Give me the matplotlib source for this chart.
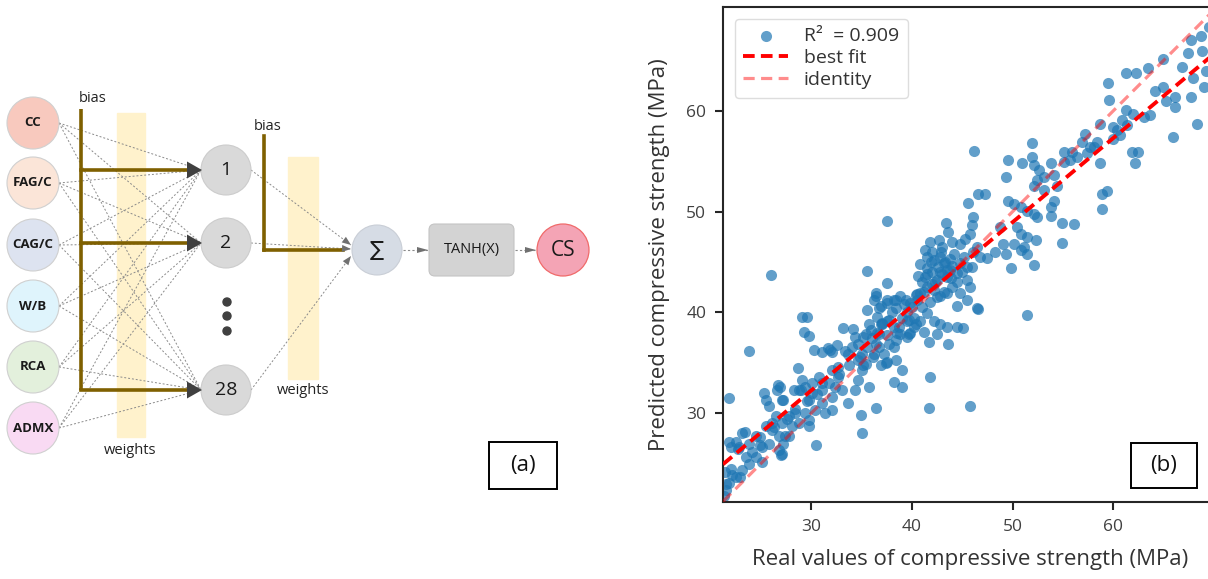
import numpy as np
import matplotlib.pyplot as plt
from matplotlib.patches import Circle, Rectangle, FancyBboxPatch, Polygon

plt.rcParams['font.family'] = ['Open Sans', 'DejaVu Sans']

# ---------------- data (MPa) ----------------
# lower part of the cloud
real_low = [22.5, 23.1, 22.0, 22.8, 23.8, 24.5, 25.1, 25.5, 26.1, 26.5,
            26.6, 26.9, 25.3, 25.5, 25.8, 27.1, 25.1, 24.5, 23.8, 23.1,
            22.5, 21.8, 21.5, 22.1, 23.5, 24.1, 25.8, 26.8, 27.1, 27.8,
            28.1, 28.8, 28.8, 29.1, 29.4, 29.8, 30.1, 30.8, 31.1, 31.1,
            31.4, 32.1, 32.1, 32.4, 32.7, 33.1, 33.7, 34.4, 34.7, 35.1,
            35.4, 35.7, 36.1, 36.4, 36.7, 35.4, 35.7, 34.7, 34.4, 37.0,
            37.7, 38.4, 38.7, 39.7, 40.4, 39.7, 37.7, 36.7, 35.1, 34.7,
            34.1, 27.8, 28.4, 29.8, 27.1, 27.4, 26.8, 29.8, 29.4, 30.4,
            31.1, 32.1, 32.7, 30.1, 36.4, 36.7, 37.5, 38.4, 38.4, 39.4,
            40.4]
pred_low = [27.2, 28.0, 26.7, 26.7, 27.0, 27.7, 26.7, 28.7, 28.3, 29.7,
            32.3, 32.6, 32.0, 31.3, 30.7, 31.3, 25.2, 25.7, 25.0, 24.4,
            23.7, 23.1, 22.4, 23.9, 25.7, 26.2, 27.0, 26.4, 26.0, 27.7,
            28.7, 29.0, 32.3, 33.3, 32.6, 31.3, 32.0, 33.6, 32.3, 31.0,
            30.0, 30.3, 31.6, 32.6, 33.6, 32.3, 31.0, 32.3, 33.3, 34.3,
            34.9, 32.6, 35.6, 36.9, 37.9, 37.9, 38.9, 36.9, 37.6, 38.9,
            36.9, 37.3, 38.6, 39.3, 38.9, 37.9, 39.3, 36.6, 35.9, 35.3,
            36.6, 29.7, 30.0, 29.3, 29.0, 27.7, 27.7, 28.7, 30.0, 30.3,
            33.0, 34.3, 34.6, 33.0, 41.6, 40.4, 41.2, 41.2, 40.4, 41.2,
            41.7]

# scattered points below 40 MPa
real_low2 = [23.8, 21.8, 29.1, 29.6, 29.3, 29.8, 30.3, 31.1, 31.9, 32.6,
             32.1, 28.7, 33.2, 34.2, 33.4, 33.7, 35.0, 35.1, 36.4, 30.5,
             37.4, 38.4, 39.0, 38.2, 39.0, 21.8, 22.7, 23.4, 21.5, 22.9,
             22.0, 24.9, 26.1, 26.7, 27.2, 27.0, 27.2, 28.3, 29.0, 31.7,
             45.1, 46.6, 21.3, 21.4]
pred_low2 = [36.2, 31.5, 39.6, 39.6, 38.1, 37.7, 36.3, 36.1, 36.3, 36.8,
             36.1, 34.5, 38.5, 38.4, 36.2, 35.9, 29.8, 28.0, 30.5, 26.9,
             35.0, 35.3, 34.3, 33.1, 32.6, 27.2, 26.5, 28.1, 23.0, 23.7,
             24.5, 26.9, 29.0, 32.8, 31.3, 25.9, 27.0, 32.3, 32.3, 36.5,
             38.5, 40.3, 21.8, 24.2]

# middle of the cloud
real_mid = [46.8, 46.5, 45.8, 46.1, 45.5, 44.8, 43.8, 43.2, 42.8, 42.2,
            41.5, 41.3, 42.5, 43.5, 44.5, 45.5, 45.8, 44.8, 45.5, 44.5,
            46.5, 43.5, 42.8, 42.2, 41.5, 40.8, 40.5, 39.8, 38.8, 38.2,
            37.5, 36.9, 36.4, 36.2, 35.5, 36.5, 37.5, 38.2, 38.8, 39.5,
            40.2, 40.8, 41.5, 42.2, 42.8, 43.5, 44.5, 41.7, 43.6, 41.2,
            42.5, 39.5, 36.9, 35.9, 35.2, 35.5, 36.2, 37.2, 38.2, 37.5,
            36.9, 35.2, 47.5, 48.3]
pred_mid = [45.5, 46.5, 47.8, 46.0, 44.5, 44.9, 44.2, 44.9, 45.5, 45.2,
            44.4, 43.5, 43.2, 43.5, 43.9, 43.2, 42.5, 41.9, 41.2, 40.6,
            40.4, 41.9, 41.6, 42.2, 42.5, 41.9, 41.2, 40.9, 41.6, 41.2,
            40.9, 40.6, 41.9, 41.2, 40.2, 39.6, 39.2, 38.6, 37.9, 37.6,
            38.6, 39.2, 39.9, 39.2, 38.9, 38.6, 38.6, 37.1, 36.9, 38.1,
            37.9, 39.2, 38.9, 38.3, 37.6, 36.6, 35.9, 35.9, 36.6, 35.1,
            34.8, 34.8, 45.4, 46.0]

real_core = [41.0, 41.5, 42.0, 42.3, 42.6, 43.0, 43.3, 43.8, 44.2, 44.0,
             43.5, 42.8, 42.0, 41.2, 40.5, 40.0, 39.5, 39.0, 39.2, 40.2,
             41.0, 41.8, 42.5, 43.2, 44.0, 44.5, 45.0, 45.2, 46.0, 40.8,
             41.5, 42.0, 43.0, 44.0, 38.0, 37.0, 36.5, 36.0, 37.5, 38.5,
             39.8, 40.6, 41.9, 43.9, 42.9, 34.9, 33.8, 32.8, 31.8, 30.6,
             29.6, 28.4, 27.6, 26.3, 24.9]
pred_core = [43.0, 43.8, 44.0, 43.0, 44.5, 43.8, 45.0, 45.3, 45.8, 44.6,
             44.2, 44.0, 42.8, 42.0, 41.8, 40.5, 40.0, 39.5, 40.8, 39.5,
             40.5, 41.0, 41.5, 42.0, 42.5, 43.0, 44.0, 45.5, 44.5, 44.8,
             45.5, 46.0, 46.5, 47.0, 40.0, 39.0, 38.0, 37.5, 37.8, 38.0,
             38.0, 43.6, 45.0, 43.4, 46.0, 35.6, 34.8, 33.9, 33.0, 31.9,
             31.2, 30.4, 29.4, 28.6, 27.6]

real_mid2 = [37.5, 35.5, 37.5, 51.4, 41.8, 41.7, 45.8, 45.6, 46.6, 47.3,
             43.4, 43.6, 46.1, 46.0, 41.3, 41.8, 42.7, 44.8, 45.3, 26.0]
pred_mid2 = [49.1, 44.1, 42.9, 39.7, 33.6, 30.5, 30.7, 50.9, 51.8, 51.8,
             48.9, 48.0, 49.5, 48.7, 46.2, 47.0, 47.2, 46.8, 47.3, 43.7]

# upper part
real_high = [49.5, 49.3, 51.9, 51.9, 50.9, 52.1, 52.6, 53.1, 53.8, 54.1,
             54.4, 53.1, 52.4, 52.1, 55.1, 55.9, 56.4, 55.7, 55.1, 57.4,
             57.7, 57.2, 56.9, 58.4, 58.1, 58.7, 49.5, 50.1, 50.8, 51.4,
             52.1, 52.4, 53.8, 54.1, 53.8, 54.9, 56.1, 54.9, 52.3, 51.4,
             50.8, 50.4, 51.1, 51.4, 52.1, 49.8, 49.3, 49.1, 48.8, 50.1,
             50.8, 58.9, 59.4, 58.9, 61.9, 62.5, 62.2, 58.7, 60.0, 60.4,
             60.7, 60.0, 61.4, 65.9, 68.3]
pred_high = [55.1, 53.4, 56.8, 55.4, 54.8, 54.6, 54.1, 53.4, 54.8, 53.6,
             52.5, 52.1, 53.1, 52.5, 55.9, 55.9, 55.4, 55.1, 54.9, 55.8,
             56.4, 57.7, 56.9, 56.9, 56.4, 54.8, 51.1, 50.8, 50.5, 50.1,
             49.8, 49.5, 50.5, 51.1, 49.6, 48.9, 48.8, 46.9, 47.2, 47.5,
             47.8, 48.5, 46.5, 45.8, 44.7, 44.4, 45.8, 46.8, 48.5, 46.8,
             46.2, 51.8, 52.0, 50.3, 55.9, 55.9, 54.8, 58.7, 58.4, 58.1,
             57.6, 57.2, 58.6, 57.4, 58.7]

real_top = [67.7, 68.7, 67.4, 68.8, 66.8, 67.9, 69.2, 64.9, 63.4, 61.3,
            62.3, 59.5, 59.6, 67.7, 64.1, 64.9, 65.2, 66.1, 66.1, 69.0,
            63.1, 63.6, 61.3, 62.0, 60.9, 46.2, 69.5]
pred_top = [67.0, 67.4, 65.7, 65.9, 64.3, 63.3, 64.0, 65.1, 64.2, 63.8,
            63.8, 62.8, 61.1, 61.4, 62.0, 62.4, 61.0, 61.4, 60.4, 62.4,
            59.4, 59.6, 60.1, 59.7, 59.1, 56.0, 68.3]

fit_slope = 0.835
fit_intercept = 7.2
r2_value = 0.909

# ---------------- network sketch ----------------
input_labels = ['CC', 'FAG/C', 'CAG/C', 'W/B', 'RCA', 'ADMX']
input_colors = ['#f8c9be', '#fbe5d8', '#dde3f0', '#dff4fc', '#e3f0dc', '#f9daf3']
hidden_labels = ['1', '2', '28']

input_x, input_y, r_in = 33, [123, 183, 245, 306, 367, 428], 26
hidden_x, hidden_y, r_hid = 226, [170, 243, 390], 25
sum_xy, tanh_box, cs_xy = (377, 250), (429, 224, 85, 52), (563, 250)

brown = '#7f6000'
dark = '#404040'
grey = '#8a8a8a'


def head(ax, x0, y0, x1, y1, length, width, color):
    d = np.array([x1 - x0, y1 - y0], float)
    d /= np.hypot(*d)
    n = np.array([-d[1], d[0]])
    tip = np.array([x1, y1])
    base = tip - d * length
    ax.add_patch(Polygon([tip, base + n * width / 2, base - n * width / 2],
                         closed=True, color=color, lw=0, zorder=5))


fig = plt.figure(figsize=(12.08, 5.79), dpi=100)

axn = fig.add_axes([0, 0, 600 / 1208, 1])
axn.set_xlim(0, 600)
axn.set_ylim(579, 0)
axn.axis('off')

# weights bands
axn.add_patch(Rectangle((117, 113), 28, 324, color='#fff2cc', zorder=0))
axn.add_patch(Rectangle((288, 157), 30, 222, color='#fff2cc', zorder=0))
axn.text(130, 450, 'weights', ha='center', va='center', fontsize=10.5, color='#222222')
axn.text(303, 390, 'weights', ha='center', va='center', fontsize=10.5, color='#222222')

# input -> hidden connections
for yi in input_y:
    for yh in hidden_y:
        axn.plot([input_x + r_in, hidden_x - r_hid], [yi, yh], color=grey,
                 lw=0.7, ls=(0, (2, 2)), zorder=1)

# first bias
axn.plot([81, 81], [109, hidden_y[-1]], color=brown, lw=2.6, zorder=2,
         solid_capstyle='butt')
for yh in hidden_y:
    axn.plot([81, hidden_x - r_hid - 10], [yh, yh], color=brown, lw=2.6, zorder=2)
    head(axn, 0, yh, hidden_x - r_hid + 1, yh, 15, 17, dark)
axn.text(93, 98, 'bias', ha='center', va='center', fontsize=10.5, color='#222222')

for (lab, col, yi) in zip(input_labels, input_colors, input_y):
    axn.add_patch(Circle((input_x, yi), r_in, facecolor=col, edgecolor='#d0d0d0',
                         lw=0.8, zorder=3))
    axn.text(input_x, yi, lab, ha='center', va='center', fontsize=9.5,
             fontweight='bold', color='#1a1a1a', zorder=4)

for lab, yh in zip(hidden_labels, hidden_y):
    axn.add_patch(Circle((hidden_x, yh), r_hid, facecolor='#d9d9d9',
                         edgecolor='#cccccc', lw=0.8, zorder=3))
    axn.text(hidden_x, yh, lab, ha='center', va='center', fontsize=14,
             color='#1a1a1a', zorder=4)
for yd in [302, 316, 331]:
    axn.add_patch(Circle((hidden_x + 1, yd), 4, color=dark, zorder=3))

# hidden -> sum
sx, sy = sum_xy
for yh, ye in zip(hidden_y, [245, 249, 256]):
    axn.plot([hidden_x + r_hid, sx - 26], [yh, ye], color=grey, lw=0.7,
             ls=(0, (2, 2)), zorder=1)
    head(axn, hidden_x + r_hid, yh, sx - 26, ye, 9, 7, '#707070')

# second bias
axn.plot([264, 264], [136, sy], color=brown, lw=2.6, zorder=2)
axn.plot([264, sx - 34], [sy, sy], color=brown, lw=2.6, zorder=2)
axn.text(268, 127, 'bias', ha='center', va='center', fontsize=10.5, color='#222222')

axn.add_patch(Circle(sum_xy, 25, facecolor='#d6dce5', edgecolor='#c9ced6',
                     lw=0.8, zorder=3))
axn.text(sx, sy, '∑', ha='center', va='center', fontsize=15,
         family=['DejaVu Sans'], color='#1a1a1a', zorder=4)

bx, by, bw, bh = tanh_box
axn.add_patch(FancyBboxPatch((bx, by), bw, bh, boxstyle='round,pad=0,rounding_size=6',
                             facecolor='#d3d3d3', edgecolor='#c4c4c4', lw=0.8, zorder=3))
axn.text(bx + bw / 2, by + bh / 2, 'TANH(X)', ha='center', va='center',
         fontsize=10.5, color='#1a1a1a', zorder=4)

axn.plot([sx + 26, bx - 1], [sy, sy], color=grey, lw=0.8, ls=(0, (2, 2)), zorder=1)
head(axn, sx, sy, bx - 1, sy, 11, 6, '#707070')
cx, cy = cs_xy
axn.plot([bx + bw + 1, cx - 27], [sy, sy], color=grey, lw=0.8, ls=(0, (2, 2)), zorder=1)
head(axn, bx, sy, cx - 27, sy, 11, 6, '#707070')

axn.add_patch(Circle(cs_xy, 26, facecolor='#f4a4b5', edgecolor='#f06a6a',
                     lw=0.9, zorder=3))
axn.text(cx, cy, 'CS', ha='center', va='center', fontsize=15, color='#1a1a1a', zorder=4)

# ---------------- scatter ----------------
real = np.concatenate([real_low, real_low2, real_mid, real_core, real_mid2, real_high, real_top])
pred = np.concatenate([pred_low, pred_low2, pred_mid, pred_core, pred_mid2, pred_high, pred_top])

ax = fig.add_axes([723 / 1208, 77 / 579, 494 / 1208, 495 / 579])
ax.scatter(real, pred, s=64, color='#1f77b4', alpha=0.7, linewidths=0,
           label=f'R²  = {r2_value}', zorder=2)
ax.axline((0, fit_intercept), slope=fit_slope, color='red', lw=2.8,
          ls=(0, (3, 1.6)), label='best fit', zorder=4)
ax.axline((0, 0), slope=1, color='red', alpha=0.45, lw=2.3,
          ls=(0, (3.5, 2)), label='identity', zorder=3)
ax.set_xlim(21.25, 70.3)
ax.set_ylim(21.2, 70.3)
ax.set_xticks([30, 40, 50, 60])
ax.set_yticks([30, 40, 50, 60])
for s in ax.spines.values():
    s.set_linewidth(1.5)
    s.set_color('#262626')
ax.tick_params(direction='out', length=6, width=1.5, color='#262626',
               labelsize=12.5, labelcolor='#404040', pad=6)
ax.set_xlabel('Real values of compressive strength (MPa)', fontsize=16, color='#333333')
ax.set_ylabel('Predicted compressive strength (MPa)', fontsize=16, color='#333333')
ax.xaxis.set_label_coords(0.5, -0.095)
ax.yaxis.set_label_coords(-0.108, 0.5)

leg = ax.legend(loc='upper left', fontsize=14, frameon=True, fancybox=True,
                framealpha=1, edgecolor='#dddddd', handlelength=2.3,
                labelspacing=0.2, borderpad=0.45, borderaxespad=0.6)
for t in leg.get_texts():
    t.set_color('#333333')


# panel tags
def tag(x0, y0, x1, y1, text):
    fig.add_artist(Rectangle((x0 / 1208, 1 - y1 / 579), (x1 - x0) / 1208,
                             (y1 - y0) / 579, transform=fig.transFigure,
                             facecolor='white', edgecolor='black', lw=1.4))
    fig.text((x0 + x1) / 2 / 1208, 1 - (y0 + y1) / 2 / 579, text, ha='center',
             va='center', fontsize=16, color='#111111')


tag(489, 442, 557, 489, '(a)')
tag(1131, 443, 1197, 488, '(b)')

fig.savefig('out.png', dpi=100)
